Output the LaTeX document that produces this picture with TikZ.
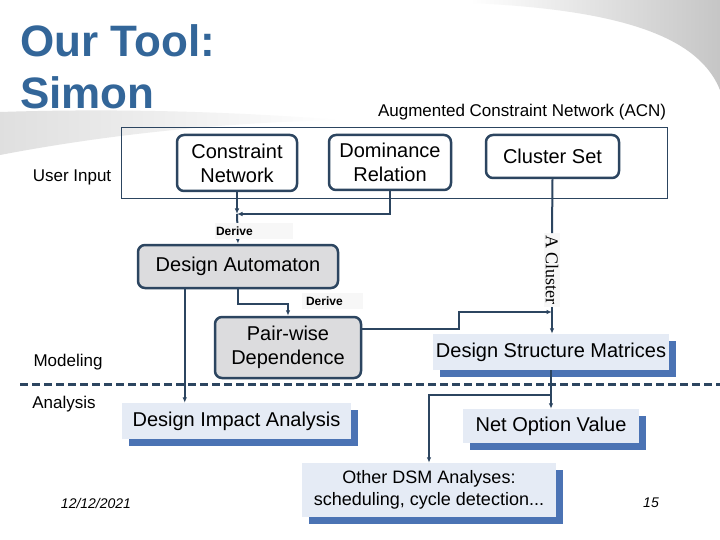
\documentclass[tikz,border=0pt]{standalone}
\usepackage{fontspec}
\setmainfont{Liberation Sans}
\newfontfamily\timesfont{Liberation Serif}
\usepackage{xcolor}
\usetikzlibrary{arrows.meta,positioning,shadows}

\definecolor{titleblue}{HTML}{336699}
\definecolor{linedark}{HTML}{2C4560}
\definecolor{boxgray}{HTML}{DCDCDE}
\definecolor{boxlight}{HTML}{E5EBF5}
\definecolor{shadowblue}{HTML}{4B73B4}

\begin{document}
\begin{tikzpicture}[
  x=1pt, y=-1pt,
  autobox/.style={
    draw=linedark,
    line width=2.5pt,
    rounded corners=7pt,
    fill=boxgray,
    align=center,
    inner sep=0pt,
    font=\fontsize{20}{24}\selectfont
  },
  inbox/.style={autobox, fill=white},
  resbox/.style={
    fill=boxlight,
    align=center,
    inner sep=0pt,
    font=\fontsize{20}{24}\selectfont,
    drop shadow={shadow xshift=7pt, shadow yshift=-7pt, fill=shadowblue, opacity=1}
  },
  tag/.style={font=\fontsize{17}{20}\selectfont},
  derive/.style={fill=gray!6, inner xsep=1pt, inner ysep=0pt, minimum height=16pt, font=\bfseries\fontsize{12}{14}\selectfont},
  flow/.style={-{Latex[length=5.5pt,width=4.5pt]}, draw=linedark, line width=2pt}
]
\fill[white] (0,0) rectangle (720,540);
\useasboundingbox (0,0) rectangle (720,540);
\shade[left color=white, right color=gray!45] (470,0) -- (720,0) -- (720,90) .. controls (700,40) and (630,10) .. (470,3) -- cycle;
\shade[left color=gray!25, middle color=gray!55, right color=white] (0,112) .. controls (120,108) and (240,112) .. (340,120) .. controls (240,122) and (120,132) .. (0,155) -- cycle;

\node[anchor=north west, align=left, inner sep=0pt, text=titleblue, font=\bfseries\fontsize{44}{52}\selectfont] (title) at (20,24) {Our Tool:\\Simon};

\node[draw=linedark, line width=0.8pt, minimum width=546pt, minimum height=71pt] (acn) at (394,162.5) {};
\node[tag, inner sep=0pt, above left=6pt and 1pt of acn.north east] (acnname) {Augmented Constraint Network (ACN)};
\node[tag] (userin) at (72,177) {User Input};
\node[tag] (model) at (68,362) {Modeling};
\node[tag] (anal) at (64,404) {Analysis};

\node[inbox, minimum width=120pt, minimum height=56pt] (cn) at (237,163) {Constraint\\Network};
\node[inbox, minimum width=122pt, minimum height=55pt] (dom) at (390,162.5) {Dominance\\Relation};
\node[inbox, minimum width=133pt, minimum height=43pt] (cset) at (552.5,156.5) {Cluster Set};
\node[autobox, minimum width=200pt, minimum height=43pt] (da) at (238,266.5) {Design Automaton};
\node[autobox, minimum width=146pt, minimum height=61pt] (pair) at (288,347.5) {Pair-wise\\Dependence};

\node[resbox, minimum width=236pt, minimum height=36pt] (dsm) at (551,352) {Design Structure Matrices};
\node[resbox, minimum width=176pt, minimum height=34pt] (nov) at (551,426) {Net Option Value};
\node[resbox, minimum width=229pt, minimum height=36pt] (dia) at (236.5,421) {Design Impact Analysis};
\node[resbox, minimum width=254pt, minimum height=54pt, font=\fontsize{18}{22}\selectfont] (other) at (429,490) {Other DSM Analyses:\\scheduling, cycle detection...};

\node[rotate=-90, fill=gray!6, inner sep=2pt, font=\timesfont\fontsize{18}{20}\selectfont] (clus) at (552,270) {A Cluster};

\draw[draw=linedark, line width=3pt, dash pattern=on 8pt off 4pt] (20,384) -- (720,384);

\coordinate (merge) at (237,214);
\coordinate (dadrop) at ([xshift=48pt]da.south west);
\coordinate (join) at (552,312);
\coordinate (split) at (551,395);

\draw[flow] (cn.south) -- (merge);
\draw[flow] (dom.south) |- (merge);
\draw[flow] (merge) -- (da.north);
\draw[flow] (da.south) -- ++(0,15) -| (pair.north);
\draw[flow] (dadrop) -- (dadrop |- dia.north);
\draw[draw=linedark, line width=2pt] (cset.south) -- (clus.west);
\draw[flow] (clus.east) -- (clus.east |- dsm.north);
\draw[flow] (pair.14) -- ++(97,0) |- (join);
\draw[flow] (dsm.south) -- (nov.north);
\draw[flow] (split) -| (other.north);

\node[derive, text width=76pt] (derive1) at (254,231) {Derive};
\node[derive, text width=59pt] (derive2) at (332.5,301) {\hspace*{3pt}Derive};

\node[font=\itshape\fontsize{14}{16}\selectfont] (date) at (96,503) {12/12/2021};
\node[font=\itshape\fontsize{14}{16}\selectfont] (page) at (651,503) {15};
\end{tikzpicture}
\end{document}
